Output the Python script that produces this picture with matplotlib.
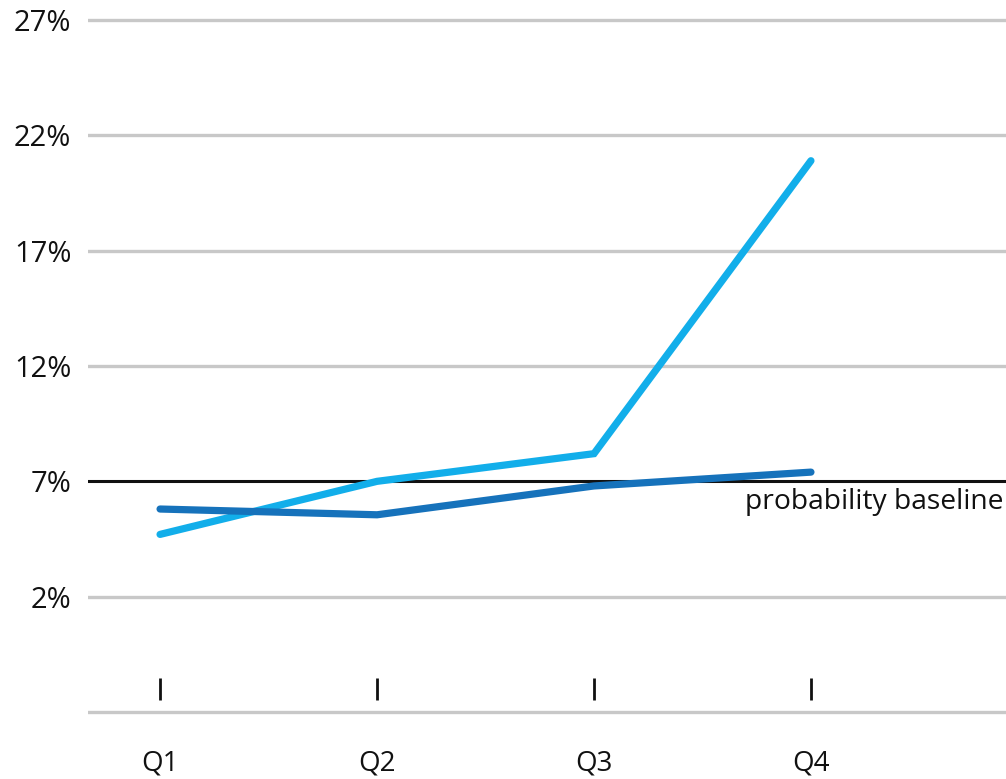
import matplotlib
matplotlib.use("Agg")
import matplotlib.pyplot as plt

# Quarterly rates (percent)
quarters = ["Q1", "Q2", "Q3", "Q4"]
series_light = [4.7, 7.0, 8.2, 20.9]
series_dark = [5.8, 5.55, 6.8, 7.4]
baseline = 7.0
baseline_label = "probability baseline"
y_ticks = [2, 7, 12, 17, 22, 27]
y_tick_labels = ["2%", "7%", "12%", "17%", "22%", "27%"]

plt.rcParams["font.family"] = ["Open Sans", "DejaVu Sans"]

fig = plt.figure(figsize=(10.06, 7.79), dpi=100)
ax = fig.add_axes([0.0875, 0.0712, 0.9125, 0.9179])

x = list(range(len(quarters)))

# horizontal grid (including the bottom rule at -3%)
for v in [-3] + y_ticks:
    if v == baseline:
        continue
    ax.axhline(v, color="#c8c8c8", lw=2.4, zorder=1)

ax.axhline(baseline, color="#111111", lw=2.2, zorder=2)
ax.text(0.997, baseline - 0.3, baseline_label, transform=ax.get_yaxis_transform(),
        ha="right", va="top", fontsize=20.3, color="#111111")

ax.plot(x, series_light, color="#12aeea", lw=5.2, solid_capstyle="round",
        solid_joinstyle="miter", zorder=3)
ax.plot(x, series_dark, color="#1672bb", lw=5.2, solid_capstyle="round",
        solid_joinstyle="miter", zorder=4)

# small quarter markers above the bottom rule
ax.plot(x, [-2] * len(x), ls="none", marker="|", ms=16, mew=2, color="#111111")

ax.set_xlim(-0.332, 3.899)
ax.set_ylim(-3.5, 27.5)
ax.set_yticks(y_ticks)
ax.set_yticklabels(y_tick_labels)
ax.set_xticks(x)
ax.set_xticklabels(quarters)
ax.tick_params(axis="y", length=0, pad=12, labelsize=21, labelcolor="#111111")
ax.tick_params(axis="x", length=0, pad=19, labelsize=20, labelcolor="#111111")
for s in ax.spines.values():
    s.set_visible(False)

fig.savefig("out.png", dpi=100)
